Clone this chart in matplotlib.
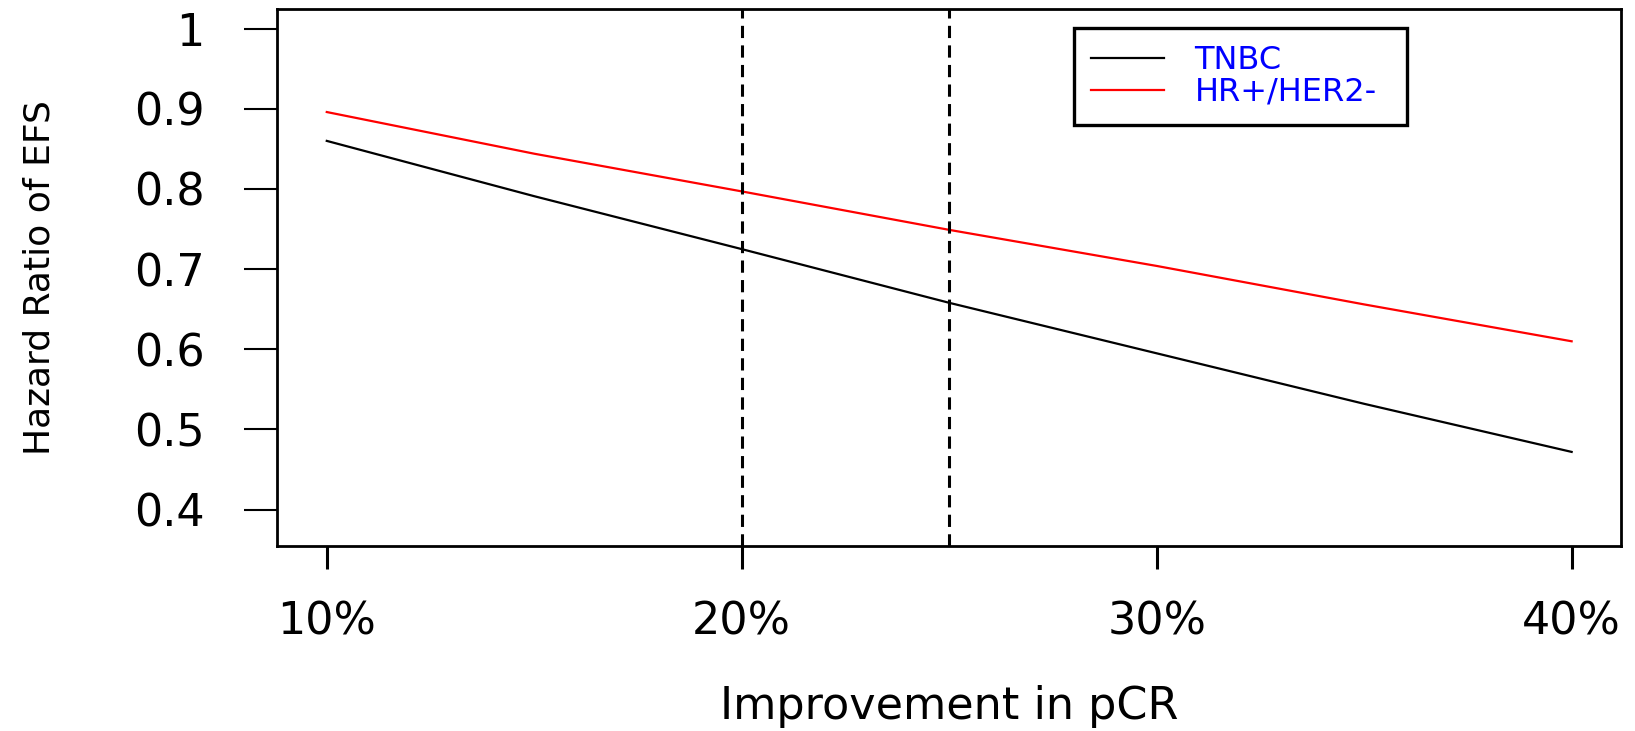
import matplotlib
matplotlib.use("Agg")
import matplotlib.pyplot as plt

# pCR improvement grid and modelled hazard ratios of EFS
pcr_gain = [0.10, 0.15, 0.20, 0.25, 0.30, 0.35, 0.40]
hr_tnbc = [0.860, 0.791, 0.725, 0.658, 0.595, 0.532, 0.472]
hr_hrpos = [0.896, 0.844, 0.797, 0.749, 0.704, 0.656, 0.610]
series_names = ["TNBC", "HR+/HER2-"]

# reference improvements marked with dashed lines
marked_gain = [0.20, 0.25]

x_ticks = [0.10, 0.20, 0.30, 0.40]
x_tick_labels = ["10%", "20%", "30%", "40%"]
y_ticks = [0.4, 0.5, 0.6, 0.7, 0.8, 0.9, 1.0]
y_tick_labels = ["0.4", "0.5", "0.6", "0.7", "0.8", "0.9", "1"]

plt.rcParams['font.family'] = ['DejaVu Sans']

fig = plt.figure(figsize=(16.35, 7.31), dpi=100)
ax = fig.add_axes([0.1694, 0.2535, 0.8223, 0.7347])

ax.plot(pcr_gain, hr_tnbc, color='black', lw=1.6, label=series_names[0])
ax.plot(pcr_gain, hr_hrpos, color='red', lw=1.6, label=series_names[1])
for g in marked_gain:
    ax.axvline(g, color='black', lw=2.2, dashes=(4, 2.4))

ax.set_xlim(0.088, 0.412)
ax.set_ylim(0.355, 1.025)

ax.set_xticks(x_ticks)
ax.set_xticklabels(x_tick_labels)
ax.set_yticks(y_ticks)
ax.set_yticklabels(y_tick_labels)

ax.tick_params(axis='x', length=16.5, width=2.2, pad=23, labelsize=32)
ax.tick_params(axis='y', length=24, width=1.5, pad=28, labelsize=32)

for s in ax.spines.values():
    s.set_linewidth(2)

ax.set_xlabel("Improvement in pCR", fontsize=32, labelpad=30)
ax.set_ylabel("Hazard Ratio of EFS", fontsize=26, labelpad=56)

# legend box stretched to a fixed width in the upper right
leg = ax.legend(loc='upper left', bbox_to_anchor=(0.5928, 0.9633, 0.2477, 0),
                mode='expand', borderaxespad=0, fontsize=23, labelcolor='blue',
                handlelength=2.3, handletextpad=0.95, borderpad=0.52,
                labelspacing=0.03, fancybox=False, framealpha=1)
leg.get_frame().set_edgecolor('black')
leg.get_frame().set_linewidth(2.4)

fig.savefig("out.png", dpi=100)
